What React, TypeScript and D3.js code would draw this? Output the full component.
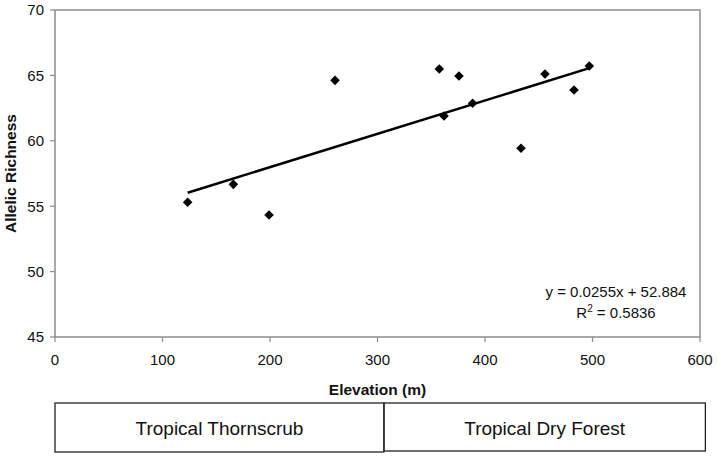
import React from "react";
import * as d3 from "d3";

const elevation = [123.4, 165.9, 199.1, 260.5, 357.5, 361.9, 375.8, 388.5, 433.5, 455.8, 482.8, 497.0];
const richness = [55.3, 56.67, 54.33, 64.62, 65.49, 61.9, 64.95, 62.87, 59.43, 65.11, 63.88, 65.72];
const xTicks = [0, 100, 200, 300, 400, 500, 600];
const yTicks = [45, 50, 55, 60, 65, 70];
const slope = 0.0255;
const intercept = 52.884;
const eqLabel = "y = 0.0255x + 52.884";
const r2Value = "0.5836";
const zoneNames = ["Tropical Thornscrub", "Tropical Dry Forest"];
const zoneStarts = [0, 306];
const zoneEnds = [306, 605];

const W = 717;
const H = 457;
const FONT = "Liberation Sans, Arial, sans-serif";

export default function App() {
  const x = d3.scaleLinear().domain([0, 600]).range([55, 700]);
  const y = d3.scaleLinear().domain([45, 70]).range([337, 10]);
  const xMin = d3.min(elevation) as number;
  const xMax = d3.max(elevation) as number;
  const line = d3
    .line<number>()
    .x((v) => x(v))
    .y((v) => y(slope * v + intercept));
  const diamond = d3.symbol(d3.symbolSquare, 46)();

  return (
    <svg
      width={W}
      height={H}
      style={{ position: "absolute", left: 0, top: 0, background: "#fff" }}
      fontFamily={FONT}
    >
      <rect x={0} y={0} width={W} height={H} fill="#fff" />
      {/* plot frame */}
      <rect
        x={x(0)}
        y={y(70)}
        width={x(600) - x(0)}
        height={y(45) - y(70)}
        fill="none"
        stroke="#8c8c8c"
        strokeWidth={1.5}
      />
      {/* y ticks */}
      {yTicks.map((t) => (
        <g key={"y" + t}>
          <line x1={x(0) - 5} x2={x(0)} y1={y(t)} y2={y(t)} stroke="#8c8c8c" strokeWidth={1.2} />
          <text x={44} y={y(t)} dy="0.36em" textAnchor="end" fontSize={15} fill="#111">
            {t}
          </text>
        </g>
      ))}
      {/* x ticks */}
      {xTicks.map((t) => (
        <g key={"x" + t}>
          <line x1={x(t)} x2={x(t)} y1={y(45)} y2={y(45) + 5} stroke="#8c8c8c" strokeWidth={1.2} />
          <text x={x(t)} y={365} textAnchor="middle" fontSize={15} fill="#111">
            {t}
          </text>
        </g>
      ))}
      {/* axis titles */}
      <text x={377.5} y={395} textAnchor="middle" fontSize={15.5} fontWeight="bold" fill="#111">
        Elevation (m)
      </text>
      <text
        transform={`translate(16,${(y(45) + y(70)) / 2}) rotate(-90)`}
        textAnchor="middle"
        fontSize={15.5}
        fontWeight="bold"
        fill="#111"
      >
        Allelic Richness
      </text>
      {/* trend line */}
      <path d={line([xMin, xMax]) || ""} fill="none" stroke="#000" strokeWidth={2.5} />
      {/* points */}
      {elevation.map((e, i) => (
        <path
          key={"p" + i}
          d={diamond || ""}
          transform={`translate(${x(e)},${y(richness[i])}) rotate(45)`}
          fill="#000"
        />
      ))}
      {/* equation */}
      <text x={616} y={297} textAnchor="middle" fontSize={15} fill="#111">
        {eqLabel}
      </text>
      <text x={616} y={318} textAnchor="middle" fontSize={15} fill="#111">
        R<tspan dy={-6} fontSize={10}>2</tspan>
        <tspan dy={6}>{" = " + r2Value}</tspan>
      </text>
      {/* zone boxes */}
      {zoneNames.map((name, i) => (
        <g key={name}>
          <rect
            x={x(zoneStarts[i])}
            y={403}
            width={x(zoneEnds[i]) - x(zoneStarts[i])}
            height={49 - i}
            fill="none"
            stroke="#222"
            strokeWidth={1.3}
          />
          <text
            x={(x(zoneStarts[i]) + x(zoneEnds[i])) / 2}
            y={428}
            dy="0.36em"
            textAnchor="middle"
            fontSize={19}
            fill="#111"
          >
            {name}
          </text>
        </g>
      ))}
    </svg>
  );
}
